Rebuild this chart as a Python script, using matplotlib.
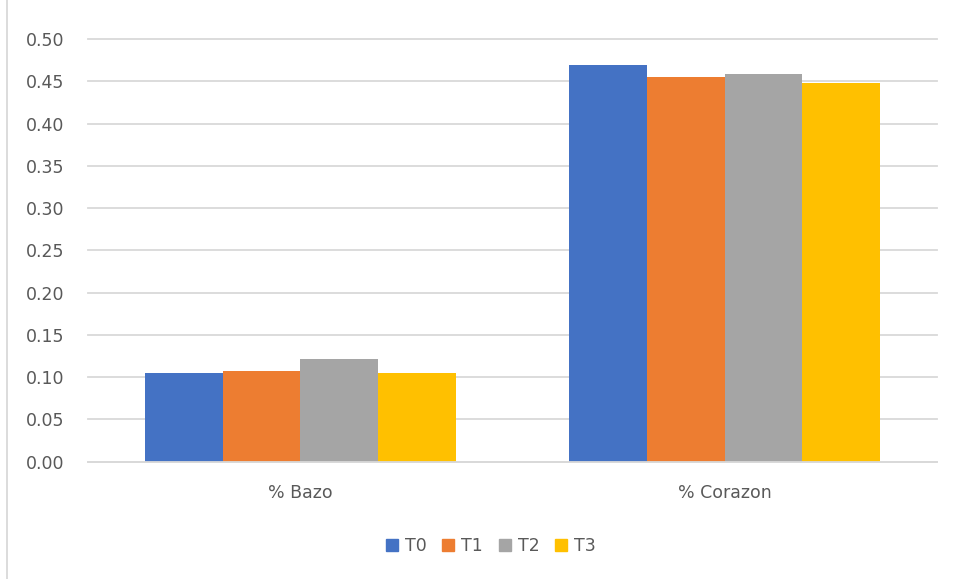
import numpy as np
import matplotlib.pyplot as plt
from matplotlib.lines import Line2D

categories = ["% Bazo", "% Corazon"]
series = ["T0", "T1", "T2", "T3"]
t0 = [0.105, 0.469]
t1 = [0.107, 0.455]
t2 = [0.121, 0.459]
t3 = [0.105, 0.448]
colors = ["#4472C4", "#ED7D31", "#A5A5A5", "#FFC000"]

plt.rcParams["font.family"] = ["DejaVu Sans"]
text_color = "#595959"
grid_color = "#D9D9D9"

fig = plt.figure(figsize=(9.55, 5.79), dpi=100)
ax = fig.add_axes([88 / 955, 1 - 461.7 / 579, (937 - 88) / 955, (461.7 - 39) / 579])

x = np.arange(len(categories))
width = 0.183
for i, (name, vals) in enumerate(zip(series, [t0, t1, t2, t3])):
    offset = (i - 1.5) * width
    ax.bar(x + offset, vals, width, color=colors[i], label=name, zorder=3)

ax.set_xlim(-0.5, 1.5)
ax.set_ylim(0, 0.5)
ax.set_yticks(np.arange(0, 0.51, 0.05))
ax.set_yticklabels([f"{v:.2f}" for v in np.arange(0, 0.51, 0.05)])
ax.set_xticks(x)
ax.set_xticklabels(categories)
ax.tick_params(axis="y", length=0, pad=17, labelsize=12.5, colors=text_color)
ax.tick_params(axis="x", length=0, pad=16, labelsize=12.5, colors=text_color)
ax.grid(axis="y", color=grid_color, linewidth=1.3, zorder=0)
for gl in ax.get_ygridlines():
    gl.set_clip_on(False)
for side in ["left", "right", "top"]:
    ax.spines[side].set_visible(False)
ax.spines["bottom"].set_color(grid_color)
ax.spines["bottom"].set_linewidth(1.3)
ax.spines["bottom"].set_zorder(4)

handles = [Line2D([0], [0], marker="s", linestyle="", markersize=8,
                  markerfacecolor=c, markeredgecolor=c) for c in colors]
fig.legend(handles, series, loc="center", bbox_to_anchor=(490 / 955, 1 - 546 / 579),
           ncol=4, frameon=False, fontsize=12.5, labelcolor=text_color,
           handletextpad=0.3, columnspacing=0.8, handlelength=0.9)

# chart border on the left edge
fig.add_artist(Line2D([7 / 955, 7 / 955], [0, 1], color=grid_color, linewidth=1.3))

fig.savefig("out.png", dpi=100)
